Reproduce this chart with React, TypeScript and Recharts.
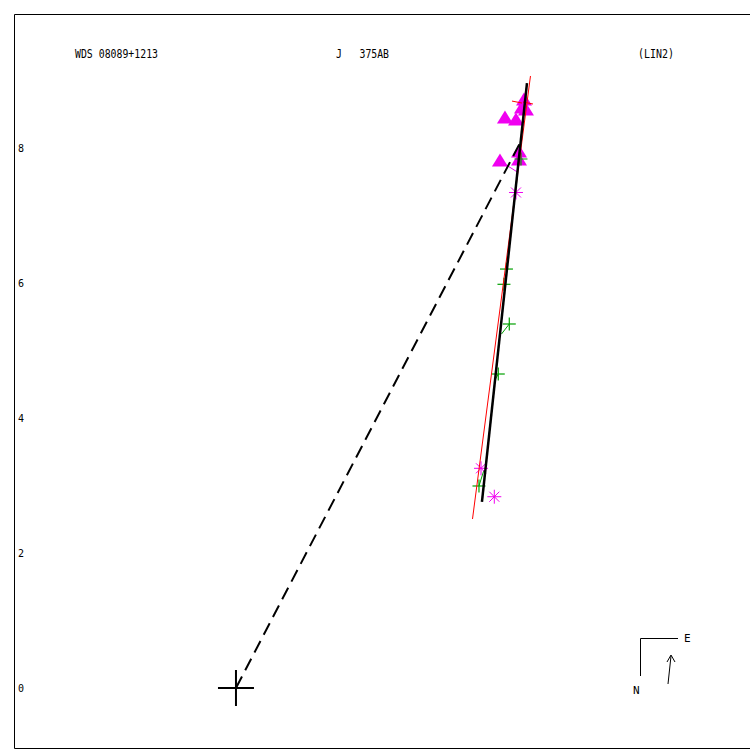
import { ScatterChart, Scatter, XAxis, YAxis } from "recharts"

// plot scale: 67.5 px per arcsec, origin of the primary at (236, 688)
const xDomain = [-3.281, 7.615]
const yDomain = [-0.896, 9.978]
const yTicks = [0, 2, 4, 6, 8]

const primary = [{ x: 0, y: 0 }]

// black solid: fitted motion, red: linear elements
const fitLine = [
  { x: 3.644, y: 2.756 },
  { x: 4.311, y: 8.963 },
]
const linearLine = [
  { x: 3.504, y: 2.504 },
  { x: 4.363, y: 9.067 },
]
const toEpoch = [
  { x: 0, y: 0 },
  { x: 4.207, y: 8.074 },
]

const greenObs = [
  { x: 4.007, y: 6.207 },
  { x: 3.97, y: 5.981 },
  { x: 4.049, y: 5.393 },
  { x: 3.886, y: 4.652 },
  { x: 3.6, y: 2.993 },
  { x: 4.222, y: 7.837 },
]
const starObs = [
  { x: 4.148, y: 7.341 },
  { x: 3.63, y: 3.255 },
  { x: 3.827, y: 2.834 },
]
const triangleObs = [
  { x: 3.985, y: 8.444 },
  { x: 4.148, y: 8.415 },
  { x: 4.267, y: 8.711 },
  { x: 4.296, y: 8.563 },
  { x: 4.237, y: 8.593 },
  { x: 4.193, y: 7.941 },
  { x: 3.911, y: 7.807 },
  { x: 4.193, y: 7.822 },
]
const rejectedObs = [
  { x: 4.163, y: 8.681 },
  { x: 4.326, y: 8.667 },
]

const greenResiduals = [
  [{ x: 4.049, y: 5.393 }, { x: 3.933, y: 5.244 }],
  [{ x: 3.886, y: 4.652 }, { x: 3.837, y: 4.563 }],
  [{ x: 3.6, y: 2.993 }, { x: 3.674, y: 3.23 }],
]
const magentaResiduals = [
  [{ x: 3.911, y: 7.807 }, { x: 4.169, y: 7.644 }],
]

const GREEN = "#00a000"
const MAGENTA = "#f000f0"

const noDot = () => <g />

const PlusShape = (p: any) => (
  <g stroke={GREEN} strokeWidth={1.2}>
    <line x1={p.cx - 6.5} y1={p.cy} x2={p.cx + 6.5} y2={p.cy} />
    <line x1={p.cx} y1={p.cy - 6.5} x2={p.cx} y2={p.cy + 6.5} />
  </g>
)

const StarShape = (p: any) => (
  <g stroke={MAGENTA} strokeWidth={1}>
    <line x1={p.cx - 7} y1={p.cy} x2={p.cx + 7} y2={p.cy} />
    <line x1={p.cx} y1={p.cy - 7} x2={p.cx} y2={p.cy + 7} />
    <line x1={p.cx - 5} y1={p.cy - 5} x2={p.cx + 5} y2={p.cy + 5} />
    <line x1={p.cx - 5} y1={p.cy + 5} x2={p.cx + 5} y2={p.cy - 5} />
  </g>
)

const TriangleShape = (p: any) => (
  <polygon
    points={`${p.cx},${p.cy - 7.5} ${p.cx - 8},${p.cy + 5.5} ${p.cx + 8},${p.cy + 5.5}`}
    fill={MAGENTA}
  />
)

const RejectShape = (p: any) => (
  <g stroke="red" strokeWidth={1}>
    <line x1={p.cx - 5} y1={p.cy - 1} x2={p.cx + 5} y2={p.cy + 1} />
  </g>
)

const PrimaryShape = (p: any) => (
  <g stroke="black" strokeWidth={2}>
    <line x1={p.cx - 18} y1={p.cy} x2={p.cx + 18} y2={p.cy} />
    <line x1={p.cx} y1={p.cy - 18} x2={p.cx} y2={p.cy + 18} />
  </g>
)

const YTick = (p: any) => (
  <text x={18} y={p.y + 4} fontFamily="DejaVu Sans Mono" fontSize={10} fill="black">
    {p.payload.value}
  </text>
)

export default function App() {
  return (
    <div style={{ position: "absolute", left: 0, top: 0, width: 750, height: 750, overflow: "hidden", background: "white" }}>
      <ScatterChart width={750} height={750} margin={{ top: 13.5, right: 0, bottom: 0.5, left: 13.5 }}>
        <XAxis type="number" dataKey="x" domain={xDomain} allowDataOverflow height={1} tick={false} tickLine={false} axisLine={{ stroke: "black" }} />
        <XAxis xAxisId="top" orientation="top" type="number" dataKey="x" domain={xDomain} allowDataOverflow height={1} tick={false} tickLine={false} axisLine={{ stroke: "black" }} />
        <YAxis type="number" dataKey="y" domain={yDomain} ticks={yTicks} allowDataOverflow width={1} tick={YTick} tickLine={false} axisLine={{ stroke: "black" }} />

        {greenResiduals.map((seg, i) => (
          <Scatter key={"gr" + i} data={seg} shape={noDot} line={{ stroke: GREEN, strokeWidth: 1 }} isAnimationActive={false} />
        ))}
        {magentaResiduals.map((seg, i) => (
          <Scatter key={"mr" + i} data={seg} shape={noDot} line={{ stroke: MAGENTA, strokeWidth: 1 }} isAnimationActive={false} />
        ))}

        <Scatter data={triangleObs} shape={TriangleShape} isAnimationActive={false} />
        <Scatter data={greenObs} shape={PlusShape} isAnimationActive={false} />
        <Scatter data={starObs} shape={StarShape} isAnimationActive={false} />
        <Scatter data={rejectedObs} shape={RejectShape} isAnimationActive={false} />

        <Scatter data={linearLine} shape={noDot} line={{ stroke: "red", strokeWidth: 1 }} isAnimationActive={false} />
        <Scatter data={toEpoch} shape={noDot} line={{ stroke: "black", strokeWidth: 2, strokeDasharray: "13 7" }} isAnimationActive={false} />
        <Scatter data={fitLine} shape={noDot} line={{ stroke: "black", strokeWidth: 2.5 }} isAnimationActive={false} />
        <Scatter data={primary} shape={PrimaryShape} isAnimationActive={false} />
      </ScatterChart>

      <svg width={750} height={750} style={{ position: "absolute", left: 0, top: 0, pointerEvents: "none" }}>
        <g fontFamily="DejaVu Sans Mono" fontSize={12} fill="black">
          <text x={75} y={58} textLength={83} lengthAdjust="spacingAndGlyphs">WDS 08089+1213</text>
          <text x={336} y={58} textLength={53} lengthAdjust="spacingAndGlyphs">{"J\u00a0\u00a0\u00a0375AB"}</text>
          <text x={638} y={58} textLength={36} lengthAdjust="spacingAndGlyphs">(LIN2)</text>
        </g>
        <g stroke="black" strokeWidth={1} fill="none">
          <line x1={640.5} y1={638.5} x2={678} y2={638.5} />
          <line x1={640.5} y1={638.5} x2={640.5} y2={676} />
          <line x1={668} y1={684} x2={671} y2={656} />
          <polyline points="667,662 671,655 675,662" />
        </g>
        <g fontFamily="DejaVu Sans Mono" fontSize={11} fill="black">
          <text x={684} y={642}>E</text>
          <text x={633} y={694}>N</text>
        </g>
      </svg>
    </div>
  )
}
